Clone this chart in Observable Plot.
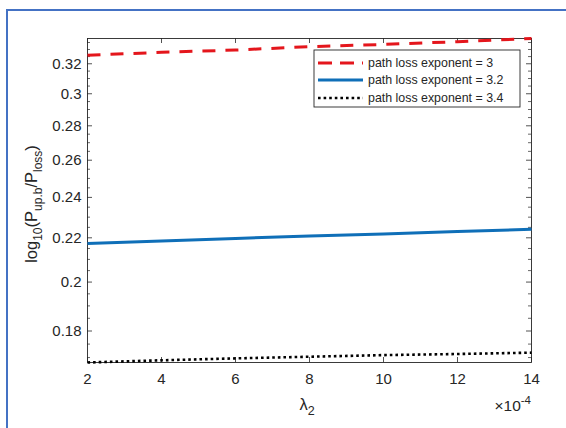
<!DOCTYPE html>
<html><head><meta charset="utf-8">
<script src="https://cdn.jsdelivr.net/npm/d3@7"></script>
<script src="https://cdn.jsdelivr.net/npm/@observablehq/plot@0.6"></script>
<style>
body{margin:0;background:#fff;}
#wrap{position:relative;width:566px;height:428px;overflow:hidden;background:#fff;}
#wrap svg{position:absolute;left:0;top:0;}
#border{position:absolute;left:6px;top:9px;width:640px;height:560px;border:2px solid #4472c4;box-sizing:border-box;pointer-events:none;}
</style></head><body><div id="wrap"></div>
<script>
// ---- data ----
const lambda2 = [2, 4, 6, 8, 10, 12, 14];           // ×10^-4
const seriesNames = ["path loss exponent = 3", "path loss exponent = 3.2", "path loss exponent = 3.4"];
const ple3  = [0.3260, 0.3280, 0.3296, 0.3320, 0.3336, 0.3356, 0.3379];
const ple32 = [0.2173, 0.2185, 0.2197, 0.2208, 0.2218, 0.2230, 0.2241];
const ple34 = [0.1682, 0.1690, 0.1697, 0.1703, 0.1709, 0.1713, 0.1718];
const xTicks = [2, 4, 6, 8, 10, 12, 14];
const yTicks = [0.18, 0.2, 0.22, 0.24, 0.26, 0.28, 0.3, 0.32];
const yTickLabels = ["0.18", "0.2", "0.22", "0.24", "0.26", "0.28", "0.3", "0.32"];
const yDomain = [0.1682, 0.3379];

// ---- layout ----
const W = 566, H = 428, mL = 87, mR = 35, mT = 38, mB = 66;
const pw = W - mL - mR, ph = H - mT - mB;
const axisColor = "#262626";
const font = "'Liberation Sans', Arial, Helvetica, sans-serif";
const colors = ["#e4161c", "#0f6fb8", "#000000"];
const dashes = ["13,10", null, "2.6,3"];
const widths = [3, 3, 2.6];

const seriesVals = [ple3, ple32, ple34];
const table = seriesVals.flatMap((vals, s) => vals.map((v, i) => ({x: lambda2[i], y: v, s})));
const minorY = d3.range(0.170, 0.3376, 0.005).filter(v => v >= yDomain[0] && v <= yDomain[1] && !yTicks.some(t => Math.abs(t - v) < 1e-9));

const lineMarks = seriesVals.map((_, s) => Plot.line(table.filter(d => d.s === s), {
  x: "x", y: "y", stroke: colors[s], strokeWidth: widths[s],
  strokeDasharray: dashes[s] ?? undefined, strokeLinecap: "butt", strokeLinejoin: "round"
}));

const chart = Plot.plot({
  width: W, height: H,
  marginLeft: mL, marginRight: mR, marginTop: mT, marginBottom: mB,
  style: {fontFamily: font, fontSize: "15px", color: axisColor, background: "transparent"},
  x: {domain: [2, 14], ticks: xTicks, label: null},
  y: {type: "log", domain: yDomain, ticks: yTicks, label: null},
  marks: [
    Plot.frame({stroke: axisColor, strokeWidth: 0.9}),
    // inward ticks
    Plot.tickY(yTicks, {y: d => d, stroke: axisColor, strokeWidth: 0.8, insetRight: pw - 5}),
    Plot.tickY(yTicks, {y: d => d, stroke: axisColor, strokeWidth: 0.8, insetLeft: pw - 5}),
    Plot.tickY(minorY, {y: d => d, stroke: axisColor, strokeWidth: 0.7, insetRight: pw - 3}),
    Plot.tickY(minorY, {y: d => d, stroke: axisColor, strokeWidth: 0.7, insetLeft: pw - 3}),
    Plot.tickX(xTicks, {x: d => d, stroke: axisColor, strokeWidth: 0.8, insetTop: ph - 5}),
    Plot.tickX(xTicks, {x: d => d, stroke: axisColor, strokeWidth: 0.8, insetBottom: ph - 5}),
    Plot.axisX({ticks: xTicks, tickSize: 0, tickPadding: 11, fontSize: 15, fill: axisColor, label: null}),
    Plot.axisY({ticks: yTicks, tickSize: 0, tickPadding: 6, fontSize: 15, fill: axisColor, label: null,
      tickFormat: d => yTickLabels[yTicks.indexOf(d)] ?? String(d)}),
    ...lineMarks
  ]
});

document.getElementById("wrap").appendChild(chart);
const svg = d3.select(chart);

// y label: log10(P_up.b / P_loss)
const yl = svg.append("text")
  .attr("transform", `translate(37,${mT + ph / 2 + 4}) rotate(-90)`)
  .attr("text-anchor", "middle")
  .attr("font-family", font).attr("font-size", 16.5).attr("fill", axisColor);
const ylParts = [["log", 0, 16.5], ["10", 4.5, 12], ["(P", -4.5, 16.5], ["up.b", 4.5, 12], ["/P", -4.5, 16.5], ["loss", 4.5, 12], [")", -4.5, 16.5]];
ylParts.forEach(([t, dy, fs]) => yl.append("tspan").attr("dy", dy).attr("font-size", fs).text(t));

// x label: λ_2
const xl = svg.append("text")
  .attr("x", mL + pw / 2 - 2).attr("y", 410)
  .attr("text-anchor", "middle")
  .attr("font-family", font).attr("font-size", 16.5).attr("fill", axisColor);
xl.append("tspan").text("λ");
xl.append("tspan").attr("dy", 5).attr("font-size", 12.5).text("2");

// exponent: ×10^-4
const ex = svg.append("text")
  .attr("x", mL + pw).attr("y", 411)
  .attr("text-anchor", "end")
  .attr("font-family", font).attr("font-size", 15.5).attr("fill", axisColor);
ex.append("tspan").text("×10");
ex.append("tspan").attr("dy", -7).attr("font-size", 11.5).text("-4");

// legend
const lg = svg.append("g").attr("text-anchor", "start");
const lx = 314, ly = 50, lw = 206, lh = 57;
lg.append("rect").attr("x", lx).attr("y", ly).attr("width", lw).attr("height", lh)
  .attr("fill", "white").attr("stroke", axisColor).attr("stroke-width", 0.9);
const rowY = [63, 80, 98];
seriesNames.forEach((name, s) => {
  lg.append("line").attr("x1", 318).attr("x2", 363).attr("y1", rowY[s]).attr("y2", rowY[s])
    .attr("stroke", colors[s]).attr("stroke-width", widths[s])
    .attr("stroke-dasharray", s === 0 ? "14,8" : dashes[s]);
  lg.append("text").attr("x", 368).attr("y", rowY[s]).attr("dy", "0.36em")
    .attr("text-anchor", "start")
    .attr("font-family", font).attr("font-size", 12.4).attr("fill", axisColor).text(name);
});

const b = document.createElement("div"); b.id = "border";
document.getElementById("wrap").appendChild(b);
</script></body></html>
